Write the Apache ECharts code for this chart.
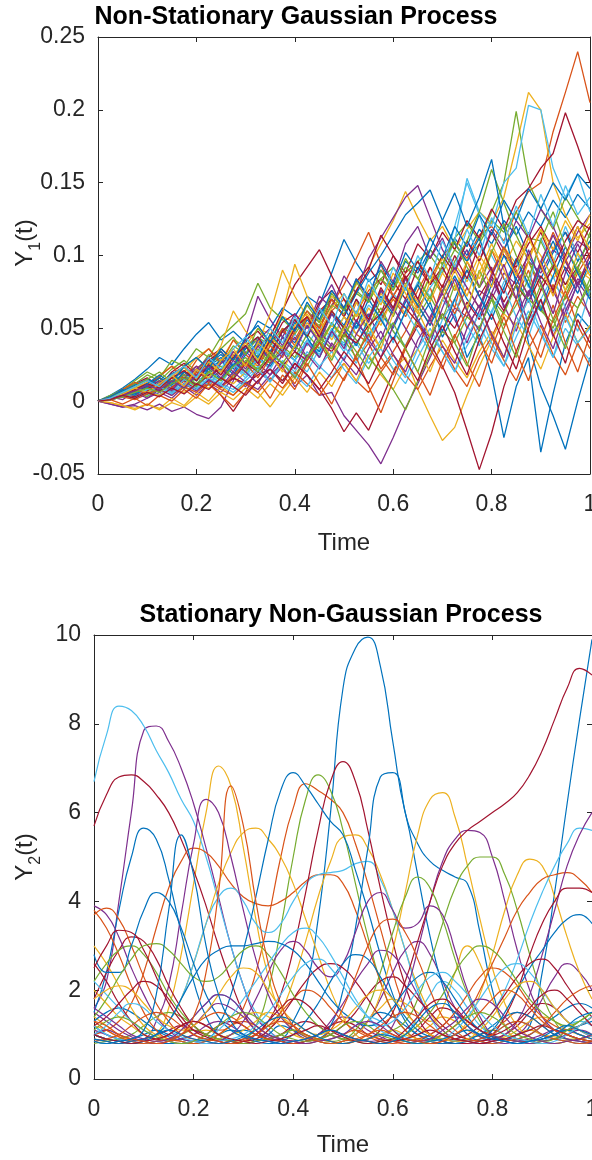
<!DOCTYPE html>
<html>
<head>
<meta charset="utf-8">
<script src="https://cdn.jsdelivr.net/npm/echarts@6/dist/echarts.min.js"></script>
<style>
html,body{margin:0;padding:0;background:#fff;overflow:hidden;}
#chart{position:absolute;left:0;top:0;width:592px;height:1160px;}
</style>
</head>
<body>
<div id="chart"></div>
<script>
// time grid shared by all sample paths
const tGrid = [0,0.025,0.05,0.075,0.1,0.125,0.15,0.175,0.2,0.225,0.25,0.275,0.3,0.325,0.35,0.375,0.4,0.425,0.45,0.475,0.5,0.525,0.55,0.575,0.6,0.625,0.65,0.675,0.7,0.725,0.75,0.775,0.8,0.825,0.85,0.875,0.9,0.925,0.95,0.975,1];

// tick labels
const xTicks = [0,0.2,0.4,0.6,0.8,1];
const y1Ticks = [-0.05,0,0.05,0.1,0.15,0.2,0.25];
const y2Ticks = [0,2,4,6,8,10];

// top panel: Y1(t) sample paths, values in thousandths
const y1_00 = [0,4,9,15,22,30,25,36,46,54,42,48,40,55,50,64,58,72,66,88,111,95,82,90,78,96,88,104,94,112,100,118,108,124,114,130,120,138,126,142,132];
const y1_01 = [0,2,6,4,10,14,9,18,24,20,28,34,26,38,44,36,50,58,48,62,70,60,76,84,72,88,96,84,100,108,98,114,120,110,130,144,150,185,212,240,205];
const y1_02 = [0,3,7,12,10,18,24,20,30,36,28,42,38,50,46,58,54,66,60,72,64,80,92,108,124,144,126,110,120,104,118,130,122,140,175,212,200,150,128,112,122];
const y1_03 = [0,-2,-4,-2,2,6,2,10,4,12,6,16,10,20,14,24,10,18,4,6,-10,-20,-30,-43,-25,-5,12,30,48,64,58,76,70,88,80,96,88,104,96,110,104];
const y1_04 = [0,3,8,14,20,16,28,24,36,30,44,52,60,81,64,56,48,62,54,70,62,76,68,84,92,80,96,104,94,112,122,110,130,150,199,150,132,118,140,126,112];
const y1_05 = [0,2,5,9,6,12,18,14,22,16,26,30,24,34,40,32,46,38,52,44,58,50,66,58,74,64,82,72,90,110,153,130,120,150,160,203,200,160,140,156,130];
const y1_06 = [0,3,8,12,16,10,20,26,18,30,36,28,42,48,38,54,60,50,68,76,64,82,92,80,100,88,108,98,116,104,124,112,132,118,138,146,160,170,198,175,150];
const y1_07 = [0,2,5,8,12,9,16,20,14,24,30,22,36,42,32,48,40,56,46,62,52,70,58,76,64,80,54,68,44,60,30,46,18,-25,10,30,-35,5,40,60,50];
const y1_08 = [0,3,6,10,7,13,18,12,22,28,20,32,26,40,34,48,42,58,50,66,80,98,116,94,72,86,64,78,56,70,50,66,44,62,80,96,76,92,70,88,102];
const y1_09 = [0,-1,-3,-6,-2,-5,2,-3,6,0,10,4,14,6,-4,8,18,30,40,52,44,60,48,36,22,30,8,-10,-27,-18,4,24,42,60,52,70,62,80,72,90,84];
const y1_10 = [0,-2,-4,-3,-6,-2,-7,-4,-9,-12,-4,14,44,72,56,44,60,50,72,64,86,74,98,112,126,140,148,126,104,90,110,96,118,104,124,112,132,120,100,116,128];
const y1_11 = [0,4,8,12,18,14,22,28,20,32,26,38,32,44,38,50,46,58,52,66,60,74,68,84,76,92,84,100,88,104,96,108,124,116,130,112,110,92,80,96,110];
const y1_12 = [0,1,3,6,4,9,13,10,16,20,14,24,18,28,24,34,28,40,34,46,40,52,46,58,52,70,62,78,90,120,150,128,100,84,70,56,66,48,58,40,52];
const y1_13 = [0,2,4,8,12,16,10,14,8,12,4,-7,6,24,44,62,80,92,104,86,70,54,74,60,82,70,92,80,100,88,110,96,116,100,92,108,120,104,116,102,120];
const y1_14 = [0,3,7,11,15,12,19,23,17,26,32,24,36,44,34,48,56,44,60,70,58,74,88,100,114,128,136,145,124,108,96,112,88,104,120,100,84,102,116,96,110];
const y1_15 = [0,2,6,3,10,16,9,20,14,26,18,32,24,40,30,50,38,58,44,36,50,28,40,22,34,48,66,52,80,64,96,78,104,84,70,90,62,80,54,72,60];
const y1_16 = [0,2,5,8,11,7,14,10,18,24,38,62,48,40,60,90,72,58,46,62,50,68,56,74,62,80,68,86,74,94,82,100,88,106,94,112,100,84,96,80,90];
const y1_17 = [0,3,1,7,12,6,16,10,22,30,20,34,26,42,50,38,56,46,66,80,62,84,70,96,82,108,120,98,112,90,104,78,92,64,80,52,70,44,66,84,76];
const y1_18 = [0,2,5,3,8,12,7,15,10,20,14,26,20,32,26,38,30,46,36,54,44,62,50,70,58,78,66,86,74,96,110,130,159,136,114,96,80,94,76,90,72];
const y1_19 = [0,1,5,2,8,4,11,16,9,18,12,24,16,30,22,14,28,20,36,46,34,52,40,60,48,38,56,44,70,58,86,72,60,82,96,78,112,94,120,100,88];
const y1_20 = [0,2,6,10,14,10,18,24,16,28,34,24,38,44,32,48,56,44,62,70,58,76,90,114,100,84,96,80,92,76,90,72,86,68,84,100,116,96,80,92,106];
const y1_21 = [0,2,4,7,5,10,14,9,17,22,15,26,20,30,24,36,28,42,34,48,38,54,44,60,50,68,80,104,124,143,120,140,166,120,80,40,10,-10,-33,0,30];
const y1_22 = [0,3,8,13,9,17,24,15,28,36,26,42,32,24,38,30,48,62,50,70,58,46,40,56,70,58,76,92,74,60,78,64,88,106,90,72,94,116,98,80,100];
const y1_23 = [0,1,3,2,6,4,9,6,12,9,16,12,20,26,40,60,94,72,56,42,58,46,64,52,72,60,80,68,88,76,96,84,104,92,110,98,118,104,124,110,128];
const y1_24 = [0,2,6,10,5,12,7,16,24,14,28,20,34,26,18,32,44,30,48,38,28,46,60,42,64,50,36,58,74,56,40,62,84,66,48,74,96,76,58,82,70];
const y1_25 = [0,1,4,7,3,9,14,8,17,11,22,30,20,36,26,44,34,24,40,54,42,30,50,64,48,36,58,72,56,80,62,90,72,52,66,84,64,50,72,92,74];
const y1_26 = [0,2,5,3,8,12,6,15,10,19,12,8,16,24,14,28,20,34,24,16,30,40,26,36,22,12,30,46,34,20,38,52,36,24,44,62,46,30,50,38,28];
const y1_27 = [0,2,5,3,7,10,6,12,8,14,10,16,12,18,22,14,26,18,8,-5,-21,-8,-20,0,20,36,52,44,60,50,68,56,74,62,80,68,86,74,92,80,96];
const y1_28 = [0,2,5,8,12,7,14,18,11,22,28,18,32,40,28,44,36,52,42,60,50,38,56,72,60,78,66,52,70,86,70,58,80,100,84,68,92,110,90,74,96];
const y1_29 = [0,1,3,1,5,8,4,10,6,13,8,4,12,6,16,9,20,12,4,16,26,14,6,20,32,18,8,24,38,22,10,30,44,28,14,36,52,32,18,40,24];
const y1_30 = [0,-1,-3,-5,-2,-6,-1,-4,3,-2,6,1,9,2,12,4,16,6,20,10,26,14,32,18,8,24,36,20,42,28,16,34,48,30,54,38,22,44,60,40,52];
const y1_31 = [0,1,4,7,10,14,8,16,22,14,26,32,22,38,28,44,34,52,40,60,46,68,54,76,62,84,70,56,76,92,78,64,86,104,88,72,96,114,96,80,100];
const y1_32 = [0,2,5,8,12,8,14,18,12,20,24,16,28,22,32,26,38,30,44,36,52,42,30,20,8,-6,14,32,48,40,58,50,70,60,80,70,62,54,72,64,80];
const y1_33 = [0,1,3,5,8,10,6,12,17,11,21,26,18,30,22,36,28,42,32,50,38,26,44,58,40,62,48,34,56,70,52,38,62,78,58,44,70,86,64,48,76];
const y1_34 = [0,2,4,7,10,7,12,16,11,18,22,15,26,20,30,24,34,28,40,34,46,40,52,60,72,64,54,40,24,6,-20,-47,-22,10,34,56,76,92,110,124,118];
const y1_35 = [0,3,7,4,10,16,11,20,14,26,34,24,38,30,46,36,54,44,30,48,64,50,70,56,42,62,80,64,48,70,90,72,56,78,98,80,62,86,106,88,70];
const y1_36 = [0,2,4,8,5,11,16,10,20,15,9,18,26,16,30,22,12,28,40,26,14,32,46,30,18,38,54,36,22,44,62,42,26,50,70,48,30,56,76,52,36];
const y1_37 = [0,2,5,9,13,8,17,23,15,27,20,32,40,28,44,36,52,60,46,64,74,58,80,66,88,74,60,82,98,80,64,88,108,90,70,96,118,98,76,102,86];
const y1_38 = [0,1,3,6,2,8,4,12,7,15,10,20,13,8,18,26,16,32,22,40,28,18,36,48,32,20,42,56,38,26,50,66,46,30,58,76,54,36,62,80,58];
const y1_39 = [0,3,6,10,15,20,13,24,30,22,36,44,32,50,40,58,48,66,54,74,62,82,68,90,76,98,84,70,94,110,92,78,102,122,100,84,110,130,106,90,116];
const y1_40 = [0,2,4,2,6,10,5,12,8,16,11,6,14,22,13,26,18,10,24,34,22,12,30,42,28,16,36,50,34,20,44,60,40,24,52,70,48,30,58,40,50];
const y1_41 = [0,2,5,8,12,9,16,21,14,25,18,30,38,26,42,34,50,58,44,62,50,70,56,78,64,86,70,92,78,100,84,108,90,74,96,116,92,76,100,120,98];
const y1_42 = [0,3,8,5,12,18,12,24,30,22,36,28,44,52,40,58,48,68,56,76,64,84,72,94,80,102,90,112,98,120,106,128,114,138,124,146,132,150,138,156,146];
const y1_43 = [0,1,-2,2,-3,4,0,8,2,12,4,-4,6,14,2,18,8,26,12,-2,16,30,10,-8,14,36,20,4,28,46,26,10,36,58,34,14,42,66,40,20,46];
const y1_44 = [0,2,5,9,6,12,18,10,22,16,28,36,24,40,32,20,38,54,42,30,50,68,52,36,60,80,62,44,70,90,72,96,78,104,86,112,94,72,98,120,104];
const y1_45 = [0,2,4,7,11,8,14,9,18,24,16,28,20,12,26,34,22,40,30,48,36,56,42,30,52,70,56,40,64,84,62,48,74,94,70,104,82,60,88,108,90];
const y1_46 = [0,1,3,6,9,6,12,16,10,20,14,24,30,20,34,26,16,30,42,28,46,34,22,40,54,36,20,44,60,40,24,50,70,48,30,58,80,56,36,64,84];
const y1_47 = [0,2,6,10,14,10,18,24,16,30,22,36,44,32,50,40,58,46,64,52,74,60,84,68,92,76,100,84,110,92,118,100,126,108,134,114,142,120,148,128,140];
const y1_48 = [0,1,4,2,6,3,9,5,12,8,16,10,4,14,22,12,26,18,8,20,34,24,12,30,44,28,14,36,52,34,18,42,60,40,22,50,70,46,26,56,40];

// bottom panel: Y2(t) sample paths
const y2_00 = [1.2,1.0,0.9,0.85,0.8,0.8,0.8,0.8,0.85,0.9,1.0,1.1,1.0,0.9,0.85,0.9,1.3,2.0,3.6,6.0,8.8,9.7,9.95,9.3,7.6,6.0,5.3,4.9,4.7,4.55,4.4,3.3,2.0,1.2,0.9,0.85,0.9,1.0,1.1,1.2,1.3];
const y2_01 = [1.0,0.9,0.85,0.8,0.8,0.85,1.0,1.2,1.3,1.2,1.1,1.2,1.6,2.4,3.6,5.0,6.1,6.65,6.5,6.3,6.0,5.3,4.4,3.4,2.4,1.6,1.2,1.0,0.9,0.85,0.8,0.8,0.85,0.9,1.0,1.1,1.0,0.9,0.85,0.8,0.8];
const y2_02 = [1.4,1.2,1.0,0.9,0.85,1.0,1.6,2.8,4.4,6.0,7.05,6.6,5.2,3.6,2.3,1.5,1.1,0.9,0.85,0.8,0.85,1.0,1.3,1.6,1.8,1.7,1.5,1.3,1.6,2.4,3.0,2.6,1.8,1.2,0.9,0.85,0.8,0.8,0.85,0.9,1.0];
const y2_03 = [1.6,2.2,4.0,6.0,7.85,7.95,7.6,7.0,6.2,5.2,4.1,3.0,2.1,1.4,1.1,0.9,0.85,0.9,1.0,1.2,1.4,1.3,1.1,0.95,0.85,0.8,0.85,1.0,1.2,1.4,1.3,1.1,0.95,0.9,1.0,1.3,1.8,2.3,2.6,2.4,2.0];
const y2_04 = [1.0,0.9,0.85,0.8,0.8,0.85,0.9,1.0,1.1,1.0,0.9,0.85,0.9,1.2,2.0,3.4,5.0,6.3,6.85,6.5,5.6,4.4,3.2,2.2,1.5,1.1,0.9,0.85,0.8,0.85,0.9,1.0,1.1,1.0,0.9,0.85,0.8,0.8,0.85,0.9,1.0];
const y2_05 = [6.7,7.75,8.4,8.3,7.95,7.4,6.9,6.3,5.8,5.0,4.0,3.0,2.1,1.5,1.1,0.9,0.85,0.9,1.0,1.1,1.0,0.9,0.85,0.8,0.85,1.0,1.4,1.9,2.2,2.0,1.6,1.2,1.0,0.9,0.85,0.8,0.85,1.0,1.2,1.3,1.2];
const y2_06 = [5.7,6.4,6.8,6.85,6.7,6.4,6.0,5.4,4.7,3.9,3.0,2.2,1.5,1.1,0.9,0.85,0.8,0.85,1.0,1.2,1.3,1.2,1.0,0.9,0.85,0.9,1.1,1.4,1.6,1.5,1.3,1.1,0.95,0.9,0.85,0.85,0.9,1.0,1.1,1.0,0.9];
const y2_07 = [1.5,2.4,3.8,5.0,5.65,5.4,4.5,3.3,2.2,1.4,1.0,0.85,0.8,0.85,1.0,1.2,1.1,0.95,0.85,0.8,0.85,1.0,1.3,1.5,1.4,1.2,1.0,0.9,0.85,0.8,0.8,0.85,0.9,0.9,1.0,1.2,2.4,4.2,6.2,8.1,9.9];
const y2_08 = [1.0,1.1,1.3,1.7,2.4,3.4,4.3,4.9,5.2,5.1,4.8,4.4,4.1,3.95,3.9,4.0,4.2,4.45,4.6,4.6,4.4,3.8,3.0,2.2,1.5,1.1,0.9,0.85,0.8,0.85,0.9,1.0,1.1,1.3,1.5,1.4,1.2,1.0,0.9,0.85,0.8];
const y2_09 = [0.9,0.85,0.8,0.85,0.9,1.0,1.3,1.8,2.6,3.5,4.4,5.1,5.55,5.65,5.4,5.0,4.4,3.6,2.8,2.0,1.4,1.0,0.85,0.8,0.85,0.9,1.0,1.2,1.4,1.3,1.1,0.95,0.9,0.95,1.1,1.3,1.4,1.3,1.1,1.0,0.9];
const y2_10 = [1.2,1.1,0.95,0.9,0.85,0.8,0.85,0.9,1.0,1.1,1.0,0.9,0.85,0.9,1.1,1.5,2.2,3.1,4.1,4.9,5.45,5.5,5.2,4.6,3.8,2.9,2.1,1.5,1.1,0.9,0.85,0.8,0.85,0.9,1.0,1.1,1.0,0.95,0.9,0.9,1.0];
const y2_11 = [1.0,0.9,0.85,0.8,0.85,1.0,1.3,1.8,2.6,3.5,4.1,4.3,4.0,3.5,3.3,3.5,4.0,4.4,4.6,4.65,4.7,4.85,4.9,4.5,3.8,2.9,2.0,1.4,1.0,0.85,0.8,0.85,1.0,1.2,1.3,1.2,1.0,0.9,0.85,0.8,0.85];
const y2_12 = [1.1,1.0,0.9,0.85,0.9,1.3,2.1,3.7,5.3,6.3,6.0,5.0,3.8,2.7,1.9,1.4,1.1,0.9,0.85,0.8,0.85,1.0,1.3,1.8,2.4,2.9,3.1,2.8,2.2,1.6,1.2,0.95,0.85,0.8,0.85,0.9,1.0,1.1,1.0,0.9,0.85];
const y2_13 = [0.9,0.85,0.8,0.85,0.9,1.0,1.1,1.2,1.1,1.0,0.9,0.85,0.9,1.0,1.3,1.9,2.9,4.2,5.6,6.7,7.15,6.7,5.6,4.3,3.1,2.1,1.4,1.0,0.85,0.8,0.8,0.85,0.9,1.0,1.2,1.5,1.7,1.6,1.3,1.1,0.95];
const y2_14 = [0.85,0.8,0.85,0.9,1.0,1.1,1.0,0.9,0.85,0.9,1.2,1.9,2.9,4.1,5.4,6.5,6.9,6.6,6.2,5.8,5.5,4.7,3.8,2.8,1.9,1.3,1.0,0.85,0.8,0.85,0.9,1.0,1.2,1.4,1.5,1.4,1.2,1.0,0.9,0.85,0.8];
const y2_15 = [1.3,1.5,1.6,1.5,1.3,1.1,0.95,0.85,0.8,0.85,0.9,1.0,1.1,1.0,0.9,0.85,0.8,0.85,0.9,1.2,2.0,3.4,5.2,6.8,6.9,6.0,4.6,3.2,2.1,1.4,1.0,0.85,0.8,0.85,0.9,1.0,1.2,1.4,1.6,1.7,1.6];
const y2_16 = [2.0,1.7,1.4,1.2,1.0,0.9,0.85,0.8,0.85,0.9,1.0,1.2,1.4,1.5,1.4,1.2,1.0,0.9,0.85,0.8,0.85,1.0,1.3,1.9,2.9,4.2,5.5,6.3,6.45,5.9,4.8,3.6,2.5,1.7,1.2,0.95,0.85,0.8,0.85,0.9,1.0];
const y2_17 = [1.0,1.1,1.0,0.9,0.85,0.8,0.85,0.9,1.0,1.2,1.3,1.2,1.0,0.9,0.85,0.8,0.85,0.9,1.0,1.1,1.0,0.9,0.85,0.9,1.2,1.9,2.9,4.0,4.9,5.4,5.6,5.55,5.0,4.0,2.9,2.0,1.4,1.1,0.9,0.85,0.8];
const y2_18 = [0.8,0.85,0.9,1.0,1.2,1.4,1.5,1.4,1.2,1.0,0.9,0.85,0.8,0.85,0.9,1.0,1.1,1.0,0.9,0.85,0.8,0.85,0.9,1.0,1.1,1.3,1.8,2.6,3.5,4.3,4.8,5.0,5.0,4.6,3.8,2.8,1.9,1.3,1.0,0.9,0.85];
const y2_19 = [1.8,2.4,2.9,3.2,3.1,2.7,2.1,1.6,1.2,1.0,0.9,0.85,0.8,0.85,0.9,1.0,1.2,1.3,1.2,1.0,0.9,0.85,0.9,1.1,1.5,2.2,3.1,4.0,4.8,5.3,5.6,5.8,6.0,6.2,6.45,6.85,7.4,8.1,8.8,9.25,9.1];
const y2_20 = [3.0,2.6,2.1,1.6,1.2,1.0,0.9,0.85,0.8,0.85,0.9,1.0,1.1,1.3,1.5,1.4,1.2,1.0,0.9,0.85,0.8,0.85,0.9,1.0,1.1,1.0,0.9,0.85,0.9,1.0,1.3,1.9,2.8,3.8,4.6,4.95,4.8,4.1,3.2,2.4,1.8];
const y2_21 = [1.2,1.0,0.9,0.85,0.8,0.85,0.9,1.1,1.4,1.7,1.9,1.8,1.5,1.2,1.0,0.9,0.85,0.8,0.85,0.9,1.0,1.2,1.4,1.3,1.1,0.95,0.85,0.8,0.85,0.9,1.0,1.2,1.5,2.0,2.7,3.5,4.2,4.8,5.3,5.65,5.6];
const y2_22 = [3.8,3.4,2.8,2.1,1.5,1.1,0.9,0.85,0.8,0.85,1.0,1.2,1.3,1.2,1.0,0.9,0.85,0.8,0.85,0.9,1.0,1.1,1.0,0.9,0.85,0.8,0.85,0.9,1.0,1.2,1.5,2.0,2.6,3.2,3.8,4.2,4.5,4.6,4.65,4.5,4.2];
const y2_23 = [1.5,1.3,1.1,0.95,0.85,0.8,0.85,1.0,1.2,1.5,1.7,1.6,1.4,1.1,0.95,0.85,0.8,0.85,1.0,1.3,1.7,2.2,2.6,2.9,2.8,2.4,1.9,1.4,1.1,0.9,0.85,0.8,0.85,1.0,1.3,1.9,2.8,3.8,4.8,5.5,6.0];
const y2_24 = [2.6,2.2,1.7,1.3,1.0,0.9,0.85,0.8,0.85,1.0,1.2,1.3,1.2,1.0,0.9,0.85,0.8,0.85,0.9,1.0,1.2,1.5,1.9,2.2,2.3,2.1,1.8,1.5,1.2,1.0,0.9,0.85,1.0,1.4,2.0,2.8,3.5,4.0,4.3,4.3,4.2];
const y2_25 = [2.2,2.6,2.9,3.0,2.8,2.4,1.9,1.5,1.2,1.0,0.9,0.85,0.8,0.85,0.9,1.0,1.1,1.0,0.9,0.85,0.9,1.1,1.6,2.4,3.3,4.1,4.55,4.3,3.6,2.7,1.9,1.3,1.0,0.9,0.85,0.8,0.85,0.9,1.0,1.2,1.4];
const y2_26 = [3.9,3.7,3.2,2.5,1.9,1.4,1.1,0.9,0.85,0.8,0.85,1.0,1.3,1.8,2.4,2.9,3.1,2.9,2.5,2.3,2.6,3.3,4.0,4.2,3.8,3.4,3.5,3.9,3.7,2.9,2.0,1.4,1.0,0.9,0.85,0.8,0.85,0.9,1.0,1.1,1.0];
const y2_27 = [3.7,3.85,3.6,3.0,2.3,1.7,1.3,1.0,0.9,0.85,0.8,0.85,0.9,1.0,1.2,1.5,1.8,2.0,1.9,1.6,1.3,1.1,0.95,0.85,0.8,0.85,0.9,1.0,1.2,1.5,1.9,2.3,2.5,2.4,2.1,1.7,1.4,1.2,1.1,1.2,1.4];
const y2_28 = [2.8,2.4,2.4,3.0,3.8,4.2,4.0,3.4,2.6,1.9,1.4,1.1,0.95,0.85,0.8,0.85,1.0,1.3,1.7,2.2,2.6,2.8,2.7,2.3,1.8,1.4,1.1,0.95,0.85,0.8,0.85,0.9,1.1,1.5,2.0,2.5,2.9,3.3,3.6,3.7,3.5];
const y2_29 = [2.5,3.0,3.35,3.3,2.9,2.3,1.7,1.3,1.0,0.9,0.85,0.8,0.85,0.9,1.1,1.4,1.8,2.2,2.5,2.6,2.5,2.2,1.8,1.4,1.1,0.9,0.85,0.8,0.85,0.9,1.0,1.2,1.5,1.9,2.3,2.6,2.7,2.5,2.1,1.7,1.4];
const y2_30 = [1.4,1.8,2.3,2.7,3.0,3.05,2.9,2.6,2.3,2.2,2.3,2.6,2.9,3.0,2.8,2.4,1.9,1.5,1.2,1.0,0.9,0.85,0.8,0.85,0.9,1.0,1.2,1.5,1.9,2.4,2.8,3.0,2.9,2.6,2.2,1.8,1.5,1.3,1.2,1.3,1.5];
const y2_31 = [2.2,1.9,1.6,1.3,1.1,0.95,0.85,0.8,0.85,0.9,1.1,1.4,1.8,2.2,2.6,3.0,3.3,3.4,3.2,2.8,2.3,1.8,1.4,1.1,0.95,0.85,0.8,0.85,0.9,1.1,1.4,1.8,2.2,2.5,2.6,2.4,2.0,1.6,1.3,1.1,0.95];
const y2_32 = [1.0,0.9,0.85,0.8,0.85,1.0,1.3,1.8,2.3,2.7,2.9,3.0,3.0,3.05,3.1,3.05,2.9,2.6,2.2,1.8,1.5,1.3,1.2,1.3,1.6,2.0,2.3,2.4,2.2,1.8,1.4,1.1,0.95,0.85,0.8,0.85,0.9,1.0,1.1,1.0,0.9];
const y2_33 = [1.3,1.1,0.95,0.85,0.8,0.85,0.9,1.0,1.2,1.4,1.5,1.4,1.2,1.0,0.9,0.85,0.8,0.85,0.9,1.1,1.6,2.3,3.0,3.5,3.6,3.3,2.7,2.0,1.4,1.1,0.9,0.85,0.8,0.85,0.9,1.0,1.2,1.5,1.8,2.0,2.1];
const y2_34 = [1.8,2.0,2.1,2.0,1.7,1.4,1.2,1.1,1.2,1.5,1.9,2.3,2.5,2.4,2.0,1.6,1.3,1.1,1.0,1.1,1.3,1.6,1.9,2.0,1.8,1.5,1.2,1.0,0.9,0.85,0.9,1.1,1.4,1.8,2.1,2.2,2.0,1.6,1.3,1.1,1.0];
const y2_35 = [1.0,1.2,1.5,1.7,1.6,1.3,1.1,0.95,0.85,0.8,0.85,0.9,1.0,1.2,1.5,1.9,2.3,2.6,2.7,2.5,2.1,1.7,1.4,1.2,1.3,1.6,2.0,2.3,2.4,2.2,1.9,1.5,1.2,1.0,0.9,0.85,0.8,0.85,1.0,1.2,1.4];
const y2_36 = [1.2,1.4,1.7,2.0,2.2,2.1,1.8,1.4,1.1,0.95,0.85,0.8,0.85,1.0,1.3,1.6,1.8,1.7,1.4,1.1,0.95,0.85,0.8,0.85,0.9,1.1,1.4,1.7,1.8,1.6,1.3,1.1,1.0,1.1,1.3,1.6,1.9,2.0,1.8,1.5,1.2];
const y2_37 = [1.1,1.3,1.4,1.3,1.1,0.95,0.85,0.8,0.85,1.0,1.2,1.4,1.5,1.4,1.2,1.0,0.9,0.85,0.9,1.0,1.2,1.3,1.2,1.0,0.9,0.85,0.8,0.85,1.0,1.2,1.4,1.5,1.4,1.2,1.0,0.9,0.85,0.9,1.1,1.3,1.5];
const y2_38 = [0.85,0.9,1.0,1.2,1.4,1.5,1.4,1.2,1.0,0.9,0.85,0.8,0.85,1.0,1.2,1.3,1.2,1.0,0.9,0.85,0.8,0.85,1.0,1.2,1.4,1.5,1.4,1.2,1.0,0.9,0.85,0.9,1.0,1.2,1.3,1.2,1.0,0.9,0.85,0.8,0.85];
const y2_39 = [1.6,1.4,1.2,1.0,0.9,0.85,0.9,1.1,1.4,1.7,1.9,1.8,1.5,1.2,1.0,0.9,0.85,0.8,0.85,0.9,1.0,1.2,1.3,1.2,1.0,0.9,0.85,0.9,1.1,1.3,1.6,1.8,1.7,1.4,1.1,0.95,0.85,0.8,0.85,0.9,1.0];
const y2_40 = [0.9,0.85,0.8,0.85,0.9,1.0,1.1,1.0,0.9,0.85,0.8,0.85,0.95,1.1,1.3,1.4,1.3,1.1,0.95,0.85,0.8,0.85,0.9,1.0,0.95,0.85,0.8,0.85,0.9,1.0,1.1,1.0,0.9,0.85,0.8,0.85,0.95,1.1,1.2,1.1,1.0];
const y2_41 = [1.0,0.9,0.85,0.8,0.85,0.9,1.0,1.2,1.3,1.2,1.0,0.9,0.85,0.8,0.85,0.9,1.0,1.1,1.2,1.1,1.0,0.9,0.85,0.8,0.85,0.9,1.0,1.1,1.0,0.9,0.85,0.8,0.85,0.9,1.0,1.1,1.2,1.1,1.0,0.9,0.85];
const y2_42 = [1.3,1.2,1.0,0.9,0.85,0.8,0.85,1.0,1.4,2.4,4.2,6.6,5.7,4.0,2.6,1.7,1.2,0.95,0.85,0.8,0.85,0.9,1.0,1.1,1.0,0.9,0.85,0.8,0.85,1.0,1.2,1.5,1.8,2.0,1.9,1.6,1.3,1.1,1.0,0.9,0.85];
const y2_43 = [0.85,0.8,0.85,0.9,1.1,1.9,3.8,5.5,4.6,3.0,1.9,1.3,1.0,0.9,0.85,0.8,0.85,0.9,1.0,1.1,1.0,0.9,0.85,0.8,0.85,1.0,1.3,1.6,1.7,1.5,1.2,1.0,0.9,0.85,0.8,0.85,0.9,1.0,1.2,1.4,1.5];

// MATLAB default line colours
const C = {
    blue: "#0072BD", orange: "#D95319", yellow: "#EDB120", purple: "#7E2F8E",
    green: "#77AC30", cyan: "#4DBEEE", red: "#A2142F"
};
const cycle = [C.blue, C.orange, C.yellow, C.purple, C.green, C.cyan, C.red];
const ink = "#262626";
const font = "Liberation Sans, Arial, Helvetica, sans-serif";

const topPaths = [y1_00,y1_01,y1_02,y1_03,y1_04,y1_05,y1_06,y1_07,y1_08,y1_09,y1_10,y1_11,y1_12,y1_13,y1_14,y1_15,y1_16,y1_17,
    y1_18,y1_19,y1_20,y1_21,y1_22,y1_23,y1_24,y1_25,y1_26,y1_27,y1_28,y1_29,y1_30,y1_31,y1_32,y1_33,y1_34,
    y1_35,y1_36,y1_37,y1_38,y1_39,y1_40,y1_41,y1_42,y1_43,y1_44,y1_45,y1_46,y1_47,y1_48];

const bottomPaths = [
    [y2_00, C.blue], [y2_01, C.orange], [y2_02, C.yellow], [y2_03, C.purple], [y2_04, C.green],
    [y2_05, C.cyan], [y2_06, C.red], [y2_07, C.blue], [y2_08, C.orange], [y2_09, C.yellow],
    [y2_10, C.yellow], [y2_11, C.cyan], [y2_12, C.purple], [y2_13, C.red], [y2_14, C.blue],
    [y2_15, C.blue], [y2_16, C.yellow], [y2_17, C.purple], [y2_18, C.green], [y2_19, C.red],
    [y2_20, C.yellow], [y2_21, C.cyan], [y2_22, C.orange], [y2_23, C.purple], [y2_24, C.red],
    [y2_25, C.green], [y2_26, C.purple], [y2_27, C.orange], [y2_28, C.blue], [y2_29, C.red],
    [y2_30, C.green], [y2_31, C.cyan], [y2_32, C.blue], [y2_33, C.orange], [y2_34, C.yellow],
    [y2_35, C.cyan], [y2_36, C.red], [y2_37, C.green], [y2_38, C.orange], [y2_39, C.purple],
    [y2_40, C.blue], [y2_41, C.red], [y2_42, C.orange], [y2_43, C.blue]
];

function lineSeries(vals, color, axisIdx, scale, smooth, width) {
    return {
        type: "line",
        xAxisIndex: axisIdx,
        yAxisIndex: axisIdx,
        data: tGrid.map((t, i) => [t, vals[i] * scale]),
        showSymbol: false,
        symbol: "none",
        smooth: smooth,
        silent: true,
        lineStyle: { width: width, color: color }
    };
}

function xAxis(grid, pos) {
    return {
        type: "value", gridIndex: grid, position: pos,
        min: xTicks[0], max: xTicks[xTicks.length - 1], interval: 0.2,
        axisLine: { show: true, onZero: false, lineStyle: { color: ink, width: 1 } },
        axisTick: { show: true, inside: true, length: 5, lineStyle: { color: ink } },
        axisLabel: { show: pos === "bottom", margin: 19, fontSize: 23, color: ink, fontFamily: font, hideOverlap: false },
        splitLine: { show: false }
    };
}

function yAxis(grid, pos, ticks, step) {
    return {
        type: "value", gridIndex: grid, position: pos,
        min: ticks[0], max: ticks[ticks.length - 1], interval: step,
        axisLine: { show: true, onZero: false, lineStyle: { color: ink, width: 1 } },
        axisTick: { show: true, inside: true, length: 5, lineStyle: { color: ink } },
        axisLabel: { show: pos === "left", margin: 13, fontSize: 23, color: ink, fontFamily: font },
        splitLine: { show: false }
    };
}

function label(x, y, parts, rotate) {
    return {
        type: "text", x: x, y: y, rotation: rotate ? Math.PI / 2 : 0,
        style: {
            text: parts, align: "center", verticalAlign: "middle",
            fill: ink, fontFamily: font, fontSize: 24,
            rich: {
                n: { fontSize: 24, fontFamily: font, fill: ink, lineHeight: 28, verticalAlign: "top" },
                s: { fontSize: 16, fontFamily: font, fill: ink, lineHeight: 16, padding: [15, 0, 0, 0], verticalAlign: "top" }
            }
        }
    };
}

function title(x, y, text) {
    return {
        type: "text", x: x, y: y,
        style: { text: text, align: "center", verticalAlign: "middle", fill: "#000", fontFamily: font, fontSize: 25, fontWeight: "bold" }
    };
}

const series = [];
topPaths.forEach((p, i) => series.push(lineSeries(p, cycle[i % 7], 0, 0.001, false, 1.3)));
bottomPaths.forEach(p => series.push(lineSeries(p[0], p[1], 2, 1, true, 1.2)));

const chart = echarts.init(document.getElementById("chart"), null, { renderer: "canvas", width: 592, height: 1160 });
chart.setOption({
    animation: false,
    backgroundColor: "#fff",
    textStyle: { fontFamily: font },
    grid: [
        { left: 98, top: 37, width: 492, height: 437, outerBoundsMode: "none", containLabel: false },
        { left: 94, top: 635, width: 498, height: 444, outerBoundsMode: "none", containLabel: false }
    ],
    xAxis: [xAxis(0, "bottom"), xAxis(0, "top"), xAxis(1, "bottom"), xAxis(1, "top")],
    yAxis: [yAxis(0, "left", y1Ticks, 0.05), yAxis(0, "right", y1Ticks, 0.05), yAxis(1, "left", y2Ticks, 2), yAxis(1, "right", y2Ticks, 2)],
    series: series,
    graphic: [
        title(296, 17, "Non-Stationary Gaussian Process"),
        title(341, 615, "Stationary Non-Gaussian Process"),
        label(344, 543, "Time", false),
        label(343, 1145, "Time", false),
        label(27, 243, "{n|Y}{s|1}{n|(t)}", true),
        label(27, 857, "{n|Y}{s|2}{n|(t)}", true)
    ]
});
</script>
</body>
</html>
